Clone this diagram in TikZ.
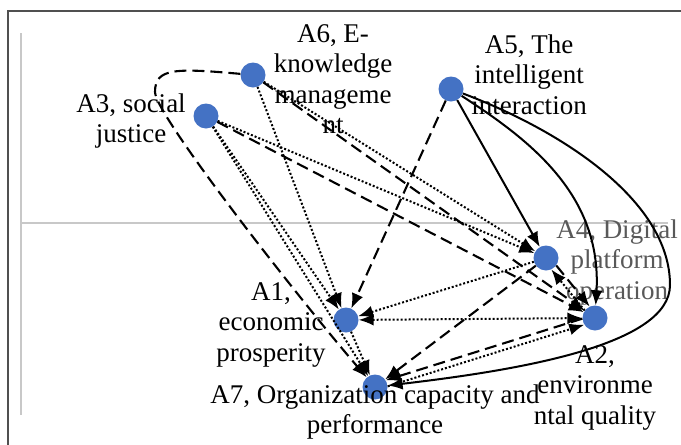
\documentclass[tikz,border=0pt]{standalone}
\usepackage{fontspec}
\setmainfont{Liberation Serif}
\usetikzlibrary{arrows.meta}
\definecolor{nodeblue}{HTML}{4472C4}
\definecolor{axisgray}{HTML}{C8C8C8}
\definecolor{framegray}{HTML}{505050}
\definecolor{labgray}{HTML}{595959}
\begin{document}
\begin{tikzpicture}[x=1pt,y=-1pt,
  bnode/.style={circle,fill=nodeblue,minimum size=25pt,inner sep=0pt},
  lbl/.style={anchor=north,align=center,inner sep=0pt,font=\fontsize{27}{30.5}\selectfont},
  arr/.style={-{Latex[length=15pt,width=12pt]}},
  barr/.style={{Latex[length=15pt,width=12pt]}-{Latex[length=15pt,width=12pt]}},
  solidln/.style={line width=2pt,black},
  dashln/.style={line width=2.1pt,black,dash pattern=on 12pt off 6pt},
  dotln/.style={line width=2pt,black,dash pattern=on 2pt off 2pt}]
\useasboundingbox (0,0) rectangle (681,445);
% frame and axes
\draw[framegray,line width=1.3pt] (8,445) -- (8,11) -- (681,11);
\draw[axisgray,line width=2pt] (21,33) -- (21,415);
\draw[axisgray,line width=2pt] (21,223) -- (668,223);
% nodes
\node[bnode] (A6) at (253,75) {};
\node[bnode] (A3) at (206,116) {};
\node[bnode] (A5) at (451,89) {};
\node[bnode] (A4) at (546,258) {};
\node[bnode] (A2) at (595,318) {};
\node[bnode] (A1) at (346,320) {};
\node[bnode] (A7) at (375,387) {};
% labels
\node[lbl] (L6) at (333,20.6) {\strut A6, E-\\knowledge\\manageme\\nt\strut};
\node[lbl] (L5) at (529,31.6) {\strut A5, The\\intelligent\\interaction\strut};
\node[lbl] (L3) at (131,90.6) {\strut A3, social\\justice\strut};
\node[lbl,text=labgray] (L4) at (617,216.6) {\strut A4, Digital\\platform\\operation\strut};
\node[lbl] (L1) at (271,278.6) {\strut A1,\\economic\\prosperity\strut};
\node[lbl] (L7) at (375,381.6) {\strut A7, Organization capacity and\\performance\strut};
\node[lbl] (L2) at (595,341.6) {\strut A2,\\environme\\ntal quality\strut};
% solid connectors from A5
\coordinate (cR) at (670,285);
\draw[solidln,arr] (A5) -- (A4);
\draw[solidln,arr] (A5) .. controls (530,140) and (602,195) .. (A2);
\draw[solidln,arr] (A5) .. controls (560,130) and (670,200) .. (cR) .. controls (670,345) and (520,370) .. (A7);
% dashed connectors
\coordinate (cL) at (155,92);
\draw[dashln,arr] (A6) .. controls (175,68) and (155,68) .. (cL) .. controls (155,115) and (300,300) .. (A7);
\draw[dashln,arr] (A6) -- (A2);
\draw[dashln,arr] (A3) -- (A2);
\draw[dashln,arr] (A5) -- (A1);
\draw[dashln,arr] (A4) -- (A7);
\draw[dashln,arr] (A4.-36) -- (A2.115);
\draw[dashln,arr] (A2.183) -- (A7.32);
% dotted connectors
\draw[dotln,arr] (A3) -- (A1);
\draw[dotln,arr] (A3) -- (A7);
\draw[dotln,arr] (A6) -- (A1);
\draw[dotln,arr] (A3) -- (A4);
\draw[dotln,arr] (A6) -- (A4);
\draw[dotln,arr] (A4) -- (A1);
\draw[dotln,barr] (A1) -- (A2);
\draw[dotln,arr] (A1) -- (A7);
\draw[dotln,arr] (A2.144) -- (A4.-65);
\draw[dotln,arr] (A7.3) -- (A2.212);
\end{tikzpicture}
\end{document}
